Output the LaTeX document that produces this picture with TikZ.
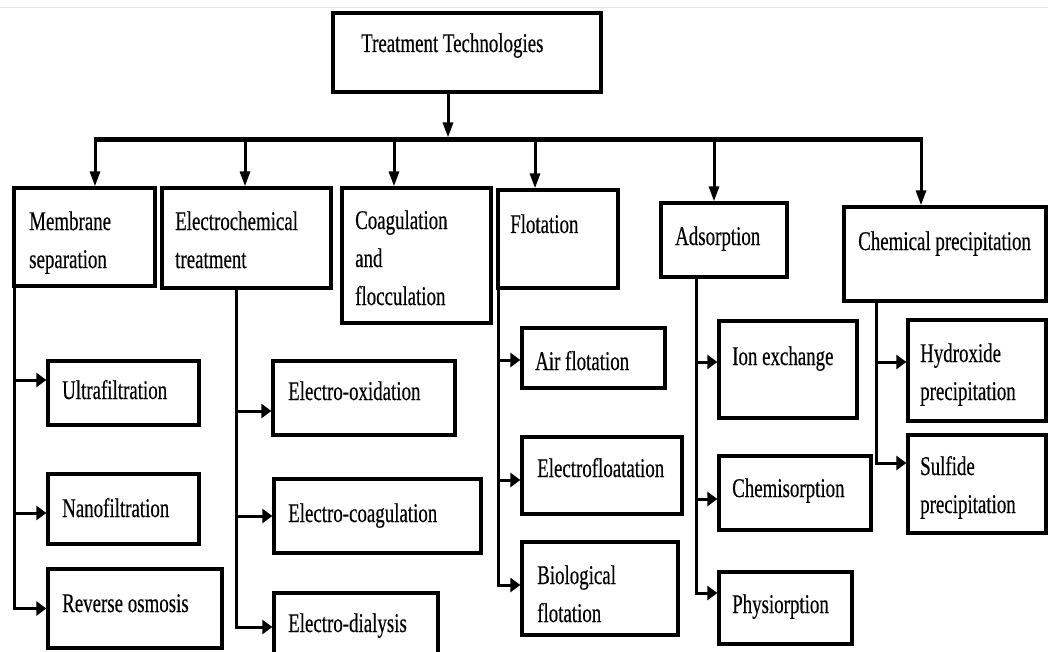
\documentclass[tikz,border=0pt]{standalone}
\usepackage{fontspec}
\setmainfont{Liberation Serif}[FakeStretch=0.7,FakeBold=0.35]
\usetikzlibrary{arrows.meta,fit}
\begin{document}
\begin{tikzpicture}[x=1pt,y=-1pt,
  box/.style={draw, line width=3.3pt, inner sep=0pt},
  txt/.style={anchor=base west, inner sep=0pt, align=left, font=\fontsize{27}{38}\selectfont},
  conn/.style={line width=3pt},
  bus/.style={line width=5pt},
  arrd/.style={line width=3pt, -{Triangle[length=15pt,width=10pt]}},
  arrr/.style={line width=3pt, -{Triangle[length=10pt,width=14pt]}},
  edge/.style={gray!20, line width=1pt}
]
\useasboundingbox (0,0) rectangle (1048,652);
\clip (0,0) rectangle (1048,652);
\fill[white] (0,0) rectangle (1048,652);
\coordinate (eL) at (0,8);
\coordinate (eR) at (1048,8);
\draw[edge] (eL) -- (eR);

% root
\node[box, fit={(333,13) (601,92)}] (top) {};
\node[txt] (top-t) at (361,52) {Treatment Technologies};

% level 1 (multi-line texts are placed by the baseline of their last line)
\node[box, fit={(14,188) (155,286)}] (mem) {};
\node[txt] (mem-t) at (29,268) {Membrane\\separation};
\node[box, fit={(162,188) (331,288)}] (elec) {};
\node[txt] (elec-t) at (175,268) {Electrochemical\\treatment};
\node[box, fit={(342,188) (491,323)}] (coag) {};
\node[txt] (coag-t) at (355,305) {Coagulation\\and\\flocculation};
\node[box, fit={(498,190) (618,288)}] (flot) {};
\node[txt] (flot-t) at (510,233) {Flotation};
\node[box, fit={(661,203) (787,277)}] (ads) {};
\node[txt] (ads-t) at (675,245) {Adsorption};
\node[box, fit={(844,207) (1046,301)}] (chem) {};
\node[txt] (chem-t) at (858,250) {Chemical precipitation};

% level 2
\node[box, fit={(48,361) (199,425)}] (ultra) {};
\node[txt] (ultra-t) at (62,399) {Ultrafiltration};
\node[box, fit={(48,474) (199,544)}] (nano) {};
\node[txt] (nano-t) at (62,517) {Nanofiltration};
\node[box, fit={(48,569) (222,648)}] (rev) {};
\node[txt] (rev-t) at (62,612) {Reverse osmosis};

\node[box, fit={(273,361) (455,435)}] (eox) {};
\node[txt] (eox-t) at (288,400) {Electro-oxidation};
\node[box, fit={(274,479) (481,553)}] (ecoag) {};
\node[txt] (ecoag-t) at (288,522) {Electro-coagulation};
\node[box, fit={(274,593) (438,656)}] (edial) {};
\node[txt] (edial-t) at (288,632) {Electro-dialysis};

\node[box, fit={(522,328) (665,388)}] (air) {};
\node[txt] (air-t) at (535,370) {Air flotation};
\node[box, fit={(522,437) (682,514)}] (efloat) {};
\node[txt] (efloat-t) at (537,477) {Electrofloatation};
\node[box, fit={(522,542) (678,635)}] (bio) {};
\node[txt] (bio-t) at (537,622) {Biological\\flotation};

\node[box, fit={(719,321) (857,418)}] (ion) {};
\node[txt] (ion-t) at (732,365) {Ion exchange};
\node[box, fit={(719,456) (871,530)}] (chemi) {};
\node[txt] (chemi-t) at (732,497) {Chemisorption};
\node[box, fit={(719,572) (852,644)}] (phys) {};
\node[txt] (phys-t) at (732,613) {Physiorption};

\node[box, fit={(908,320) (1046,421)}] (hyd) {};
\node[txt] (hyd-t) at (920,400) {Hydroxide\\precipitation};
\node[box, fit={(908,435) (1046,533)}] (sulf) {};
\node[txt] (sulf-t) at (920,513) {Sulfide\\precipitation};

% bus
\coordinate (hub) at (448,140);
\coordinate (b1) at (95,140);
\coordinate (b2) at (245,140);
\coordinate (b3) at (394,140);
\coordinate (b4) at (535,140);
\coordinate (b5) at (714,140);
\coordinate (b6) at (921,140);
\draw[arrd] ([xshift=-19pt]top.south) -- ([yshift=2.5pt]hub);
\draw[bus] ([xshift=-1.5pt]b1) -- ([xshift=1.5pt]b6);
\draw[arrd] (b1) -- (b1 |- mem.north);
\draw[arrd] (b2) -- (b2 |- elec.north);
\draw[arrd] (b3) -- (b3 |- coag.north);
\draw[arrd] (b4) -- (b4 |- flot.north);
\draw[arrd] (b5) -- (b5 |- ads.north);
\draw[arrd] (b6) -- (b6 |- chem.north);

% trunks
\coordinate (memT) at (14,286);
\coordinate (elecT) at (236,288);
\coordinate (flotT) at (498,288);
\coordinate (adsT) at (696,277);
\coordinate (chemT) at (876,301);

\draw[arrr] (memT) |- ([yshift=13pt]ultra.west);
\draw[arrr] (memT) |- ([yshift=-4pt]nano.west);
\draw[arrr] (memT) |- (rev.west);

\draw[arrr] (elecT) |- ([yshift=-13pt]eox.west);
\draw[arrr] (elecT) |- (ecoag.west);
\draw[arrr] (elecT) |- ([yshift=-2.5pt]edial.west);

\draw[arrr] (flotT) |- ([yshift=-2pt]air.west);
\draw[arrr] (flotT) |- ([yshift=-4.5pt]efloat.west);
\draw[arrr] (flotT) |- ([yshift=3.5pt]bio.west);

\draw[arrr] (adsT) |- ([yshift=7.5pt]ion.west);
\draw[arrr] (adsT) |- ([yshift=-6pt]chemi.west);
\draw[arrr] (adsT) |- ([yshift=15pt]phys.west);

\draw[arrr] (chemT) |- ([yshift=8.5pt]hyd.west);
\draw[arrr] (chemT) |- ([yshift=21pt]sulf.west);
\end{tikzpicture}
\end{document}
